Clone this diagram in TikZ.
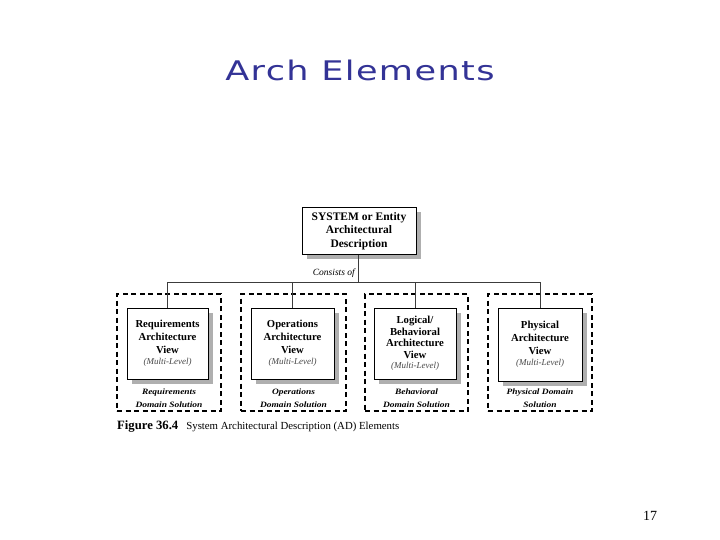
\documentclass[tikz,border=0pt]{standalone}
\usepackage{fontspec}
\setmainfont{Liberation Serif}
\newfontfamily\titlefont[LetterSpace=4]{DejaVu Sans}
\usetikzlibrary{shadows}
\definecolor{titleblue}{RGB}{51,51,150}
\definecolor{shadowgray}{RGB}{175,175,175}
\definecolor{linegray}{RGB}{60,60,60}
\definecolor{mlgray}{RGB}{70,70,70}
\newcommand{\mlevel}{{\fontsize{9}{10}\selectfont\mdseries\itshape\color{mlgray}(Multi-Level)}}
\newcommand{\wideline}[1]{\scalebox{1.15}[1]{#1}}
\begin{document}
\begin{tikzpicture}[x=1pt,y=-1pt,
  viewbox/.style={draw=black, line width=1pt, fill=white, align=center, inner sep=1pt,
    font=\fontsize{10.7}{12.8}\selectfont\bfseries,
    drop shadow={shadow xshift=4.5pt, shadow yshift=-4.5pt, fill=shadowgray, opacity=1}},
  domainbox/.style={draw=black, line width=1.2pt, dash pattern=on 5pt off 3.5pt},
  domainlabel/.style={align=center, inner sep=0pt, font=\fontsize{8.2}{12.6}\selectfont\bfseries\itshape},
  conn/.style={draw=linegray, line width=1pt}
]
\useasboundingbox (0,0) rectangle (720,540);
\fill[white] (0,0) rectangle (720,540);

% title
\node[font=\titlefont\fontsize{27}{32}\selectfont, text=titleblue] (title) at (360,70) {\scalebox{1.3}[1]{Arch Elements}};

% dashed domain boxes
\node[domainbox, minimum width=104pt, minimum height=117pt] (d1) at (169,352.5) {};
\node[domainbox, minimum width=105pt, minimum height=117pt] (d2) at (293.5,352.5) {};
\node[domainbox, minimum width=103pt, minimum height=117pt] (d3) at (416.5,352.5) {};
\node[domainbox, minimum width=104pt, minimum height=117pt] (d4) at (540,352.5) {};

% top box
\node[viewbox, font=\fontsize{11.5}{13.5}\selectfont\bfseries, minimum width=114pt, minimum height=46pt] (top) at (359,231) {SYSTEM or Entity\\Architectural\\Description};

% view boxes
\node[viewbox, minimum width=81pt, minimum height=71pt] (v1) at (167.5,343.5) {Requirements\\Architecture\\View\\[-1pt]\mlevel};
\node[viewbox, minimum width=83pt, minimum height=71pt] (v2) at (292.5,343.5) {Operations\\Architecture\\View\\[-1pt]\mlevel};
\node[viewbox, font=\fontsize{10.7}{11.5}\selectfont\bfseries, minimum width=82pt, minimum height=71pt] (v3) at (415,343.5) {Logical/\\Behavioral\\Architecture\\View\\[-1pt]\mlevel};
\node[viewbox, minimum width=84pt, minimum height=73pt] (v4) at (540,344.5) {Physical\\Architecture\\View\\[-1pt]\mlevel};

% domain labels
\node[domainlabel] (l1) at (169,398.5) {\wideline{Requirements}\\\wideline{Domain Solution}};
\node[domainlabel] (l2) at (293.5,398.5) {\wideline{Operations}\\\wideline{Domain Solution}};
\node[domainlabel] (l3) at (416.5,398.5) {\wideline{Behavioral}\\\wideline{Domain Solution}};
\node[domainlabel] (l4) at (540,398.5) {\wideline{Physical Domain}\\\wideline{Solution}};

% connectors
\coordinate (bus) at (358,282);
\draw[conn] (top.south -| bus) -- (bus);
\draw[conn] (v1.north |- bus) -- (v4.north |- bus);
\foreach \i in {1,2,3,4} \draw[conn] (v\i.north |- bus) -- (v\i.north);

\node[anchor=east, inner sep=0pt, font=\fontsize{9.5}{10}\selectfont\itshape] (cons) at (355,273) {Consists of};

% caption
\node[anchor=west, inner sep=0pt, font=\fontsize{10.8}{12}\selectfont] (cap) at (117,426) {{\fontsize{12.7}{12}\selectfont\bfseries Figure 36.4}\hspace{8pt}System Architectural Description (AD) Elements};

% page number
\node[font=\fontsize{14}{16}\selectfont] (page) at (650,516) {17};
\end{tikzpicture}
\end{document}
